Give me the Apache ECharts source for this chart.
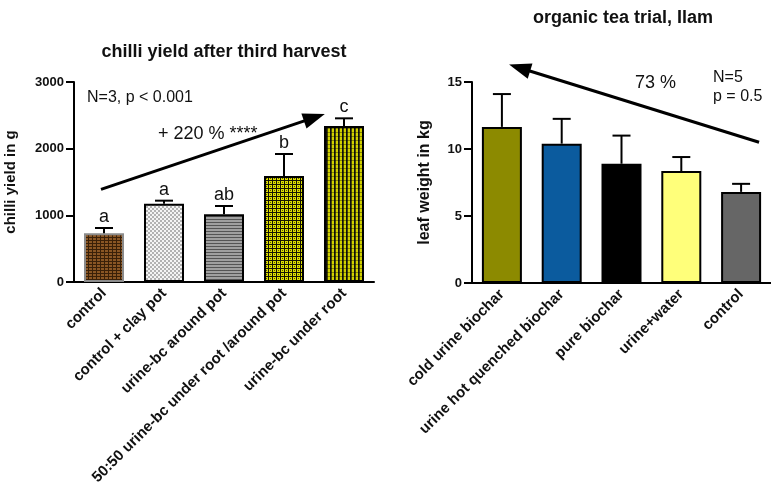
<!DOCTYPE html>
<html>
<head>
<meta charset="utf-8">
<script src="https://cdn.jsdelivr.net/npm/echarts@6/dist/echarts.min.js"></script>
<style>
  html, body { margin: 0; padding: 0; background: #fff; }
  #chart { width: 771px; height: 493px; }
</style>
</head>
<body>
<div id="chart"></div>
<script>
// ---- chilli trial ----
const chilliCategories = ['control', 'control + clay pot', 'urine-bc around pot', '50:50 urine-bc under root /around pot', 'urine-bc under root'];
const chilliYield = [730, 1175, 1015, 1590, 2340];
const chilliSE = [80, 45, 125, 330, 115];
const chilliLetters = ['a', 'a', 'ab', 'b', 'c'];
const chilliTicks = [0, 1000, 2000, 3000];
// trend arrow: [x0, y0, x1, y1] in category units / g
const chilliArrow = [-0.05, 1390, 3.68, 2520];

// ---- tea trial ----
const teaCategories = ['cold urine biochar', 'urine hot quenched biochar', 'pure biochar', 'urine+water', 'control'];
const teaWeight = [11.65, 10.4, 8.9, 8.35, 6.8];
const teaSE = [2.45, 1.85, 2.1, 1.05, 0.6];
const teaTicks = [0, 5, 10, 15];
const teaArrow = [4.3, 10.5, 0.12, 16.3];

const FONT = 'Arial, "Liberation Sans", sans-serif';

function tile(w, h, draw) {
  const c = document.createElement('canvas');
  c.width = w; c.height = h;
  draw(c.getContext('2d'));
  return { image: c, repeat: 'repeat' };
}

const chilliFills = [
  tile(4, 3, g => { g.fillStyle = '#8a5624'; g.fillRect(0, 0, 4, 3); g.fillStyle = '#3a2008'; g.fillRect(0, 0, 4, 1); g.fillRect(0, 0, 1, 3); }),
  tile(4, 4, g => { g.fillStyle = '#f4f4f4'; g.fillRect(0, 0, 4, 4); g.fillStyle = '#b2b2b2'; g.fillRect(0, 0, 2, 2); g.fillRect(2, 2, 2, 2); }),
  tile(2, 3, g => { g.fillStyle = '#a0a0a0'; g.fillRect(0, 0, 2, 3); g.fillStyle = '#555'; g.fillRect(0, 0, 2, 1); }),
  tile(4, 4, g => { g.fillStyle = '#dede00'; g.fillRect(0, 0, 4, 4); g.fillStyle = '#151500'; g.fillRect(0, 0, 4, 1); g.fillRect(0, 1, 1, 3); g.fillStyle = 'rgba(0,0,0,0.6)'; g.fillRect(2, 2, 1, 1); }),
  tile(4, 4, g => { g.fillStyle = '#d0d000'; g.fillRect(0, 0, 4, 4); g.fillStyle = '#111'; g.fillRect(2, 0, 1, 4); g.fillStyle = '#4a4a00'; g.fillRect(3, 0, 1, 4); g.fillStyle = 'rgba(0,0,0,0.35)'; g.fillRect(0, 0, 4, 1); })
];
const chilliBorders = ['#8c8c8c', '#000', '#000', '#000', '#000'];
const teaColors = ['#8c8a00', '#0b5b9e', '#000000', '#ffff7a', '#666666'];

function errorBars(letters) {
  return function (params, api) {
    const i = api.value(0), m = api.value(1), e = api.value(2);
    const p0 = api.coord([i, m]);
    const p1 = api.coord([i, m + e]);
    const cap = 9;
    const children = [
      { type: 'line', shape: { x1: p0[0], y1: p0[1], x2: p1[0], y2: p1[1] }, style: { stroke: '#000', lineWidth: 2 } },
      { type: 'line', shape: { x1: p1[0] - cap, y1: p1[1], x2: p1[0] + cap, y2: p1[1] }, style: { stroke: '#000', lineWidth: 2 } }
    ];
    if (letters) {
      children.push({ type: 'text', x: p1[0], y: p1[1] - 2,
        style: { text: letters[i], fill: '#111', font: '18px ' + FONT, align: 'center', verticalAlign: 'bottom' } });
    }
    return { type: 'group', children };
  };
}

// straight arrow between two data points, filled triangular head
function drawArrow(params, api) {
  const a = api.coord([api.value(0), api.value(1)]);
  const b = api.coord([api.value(2), api.value(3)]);
  const dx = b[0] - a[0], dy = b[1] - a[1];
  const len = Math.sqrt(dx * dx + dy * dy);
  const ux = dx / len, uy = dy / len;
  const headLen = 22, headHalf = 8;
  const base = [b[0] - ux * headLen, b[1] - uy * headLen];
  return {
    type: 'group',
    children: [
      { type: 'line', shape: { x1: a[0], y1: a[1], x2: base[0] + ux * 2, y2: base[1] + uy * 2 }, style: { stroke: '#000', lineWidth: 3 } },
      { type: 'polygon', shape: { points: [b, [base[0] - uy * headHalf, base[1] + ux * headHalf], [base[0] + uy * headHalf, base[1] - ux * headHalf]] }, style: { fill: '#000' } }
    ]
  };
}

function catAxis(grid, cats) {
  return {
    type: 'category', gridIndex: grid, data: cats,
    axisLine: { onZero: false, lineStyle: { color: '#000', width: 2 } },
    axisTick: { alignWithLabel: true, length: 6, lineStyle: { color: '#000', width: 2 } },
    axisLabel: { rotate: 45, margin: 9, color: '#111', fontWeight: 'bold', fontSize: 15, fontFamily: FONT, interval: 0 }
  };
}
function valAxis(grid, ticks, name, gap, nameSize) {
  return {
    type: 'value', gridIndex: grid, min: ticks[0], max: ticks[ticks.length - 1], interval: ticks[1] - ticks[0],
    name: name, nameLocation: 'middle', nameGap: gap,
    nameTextStyle: { color: '#111', fontWeight: 'bold', fontSize: nameSize, fontFamily: FONT },
    axisLine: { show: true, onZero: false, lineStyle: { color: '#000', width: 2 } },
    axisTick: { show: true, length: 8, lineStyle: { color: '#000', width: 2 } },
    axisLabel: { margin: 10, color: '#111', fontWeight: 'bold', fontSize: 13, fontFamily: FONT, formatter: v => String(v) },
    splitLine: { show: false }
  };
}
function hiddenX(grid) {
  return { type: 'value', gridIndex: grid, min: -0.5, max: 4.5, show: false };
}
function arrowSeries(xi, yi, arrow) {
  return {
    type: 'custom', xAxisIndex: xi, yAxisIndex: yi, renderItem: drawArrow, clip: false, silent: true, z: 5,
    encode: { x: [0, 2], y: [1, 3] }, data: [arrow]
  };
}

const chart = echarts.init(document.getElementById('chart'));
chart.setOption({
  animation: false,
  grid: [
    { left: 74, top: 82, width: 300, height: 200 },
    { left: 472, top: 82, width: 300, height: 201 }
  ],
  xAxis: [catAxis(0, chilliCategories), catAxis(1, teaCategories), hiddenX(0), hiddenX(1)],
  yAxis: [valAxis(0, chilliTicks, 'chilli yield in g', 56, 15), valAxis(1, teaTicks, 'leaf weight in kg', 39, 16)],
  series: [
    {
      type: 'bar', xAxisIndex: 0, yAxisIndex: 0, barWidth: 40,
      data: chilliYield.map((v, i) => ({ value: v, itemStyle: { color: chilliFills[i], borderColor: chilliBorders[i], borderWidth: 2 } }))
    },
    {
      type: 'custom', xAxisIndex: 0, yAxisIndex: 0, renderItem: errorBars(chilliLetters),
      encode: { x: 0, y: 1 }, data: chilliYield.map((v, i) => [i, v, chilliSE[i]]), z: 4
    },
    {
      type: 'bar', xAxisIndex: 1, yAxisIndex: 1, barWidth: 40,
      data: teaWeight.map((v, i) => ({ value: v, itemStyle: { color: teaColors[i], borderColor: '#000', borderWidth: 2 } }))
    },
    {
      type: 'custom', xAxisIndex: 1, yAxisIndex: 1, renderItem: errorBars(null),
      encode: { x: 0, y: 1 }, data: teaWeight.map((v, i) => [i, v, teaSE[i]]), z: 4
    },
    arrowSeries(2, 0, chilliArrow),
    arrowSeries(3, 1, teaArrow)
  ],
  graphic: [
    { type: 'text', x: 224, y: 52, style: { text: 'chilli yield after third harvest', font: 'bold 18px ' + FONT, fill: '#111', align: 'center', verticalAlign: 'middle' } },
    { type: 'text', x: 623, y: 18, style: { text: 'organic tea trial, Ilam', font: 'bold 18px ' + FONT, fill: '#111', align: 'center', verticalAlign: 'middle' } },
    { type: 'text', x: 87, y: 98, style: { text: 'N=3, p < 0.001', font: '16px ' + FONT, fill: '#111', verticalAlign: 'middle' } },
    { type: 'text', x: 158, y: 134, style: { text: '+ 220 % ****', font: '18px ' + FONT, fill: '#111', verticalAlign: 'middle' } },
    { type: 'text', x: 635, y: 83, style: { text: '73 %', font: '18px ' + FONT, fill: '#111', verticalAlign: 'middle' } },
    { type: 'text', x: 713, y: 78, style: { text: 'N=5', font: '16px ' + FONT, fill: '#111', verticalAlign: 'middle' } },
    { type: 'text', x: 713, y: 97, style: { text: 'p = 0.5', font: '16px ' + FONT, fill: '#111', verticalAlign: 'middle' } }
  ]
});
</script>
</body>
</html>
